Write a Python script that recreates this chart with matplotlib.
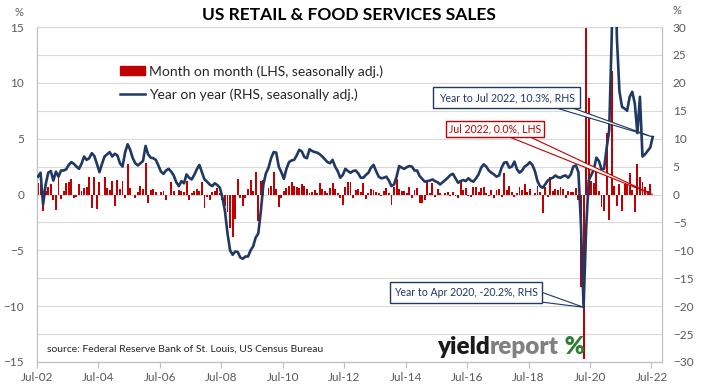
import numpy as np
import matplotlib
matplotlib.use("Agg")
import matplotlib.pyplot as plt
from matplotlib.patches import Polygon, Patch, Rectangle
from matplotlib.lines import Line2D

plt.rcParams['font.family'] = ['Lato', 'DejaVu Sans']

# month on month % change (LHS), Jul 2002 .. Jul 2022
mom_2002_2006 = [1.0, 0.9, -1.5, 0.3, 0.7, 0.9,
                 -0.5, -1.4, 1.6, -0.4, 0.3, 1.0, 1.1, 1.4, -0.3, -0.2, 0.9, 0.3,
                 0.6, 0.7, 1.6, -1.2, 1.6, -1.3, 1.1, 0.0, 1.6, 0.6, 0.4, 1.2,
                 -1.0, 1.3, 0.5, 1.2, -0.3, 2.7, 0.6, 0.0, -0.3, 0.2, 0.8, 0.5,
                 2.8, -0.8, 0.4, 0.5, 0.2, 0.0, 0.2, 0.3, -0.5, 0.0, 1.1, 0.3]
mom_2007_2011 = [0.0, 0.4, 0.3, 0.2, 1.2, -0.5, 0.1, 0.3, 0.5, 0.3, 1.1, -1.2,
                 -0.2, -0.5, 0.2, 0.3, 0.6, 0.1, -0.5, -1.0, -1.6, -3.0, -3.8, -2.2,
                 1.4, -0.3, -1.0, -0.3, 0.5, 1.3, 0.3, 2.0, -2.4, 1.2, 1.3, 0.0,
                 0.6, 0.8, 2.0, 0.5, -1.1, -0.3, 0.3, 0.6, 0.8, 1.1, 0.8, 0.7,
                 0.6, 0.9, 0.8, 0.5, 0.1, 0.2, 0.4, 0.1, 1.0, 0.5, 0.3, 0.1]
mom_2012_2016 = [0.6, 1.0, 0.5, 0.1, -0.3, -0.9, 0.7, 1.1, 1.1, -0.3, 0.4, 0.5,
                 0.2, 1.0, -0.4, 0.1, 0.5, 0.4, 0.2, 0.1, -0.1, 0.3, 0.6, 0.1,
                 -0.9, 0.7, 1.4, 0.5, 0.3, 0.3, 0.1, 0.7, -0.3, 0.4, 0.6, -0.8,
                 -0.8, -0.5, 1.2, 0.1, 1.0, -0.2, 0.5, 0.1, 0.0, 0.1, 0.2, -0.1,
                 0.2, -0.1, -0.3, 1.2, 0.4, 0.6, -0.1, -0.2, 0.7, 0.7, 0.2, 0.6]
mom_2017_2022 = [0.7, 0.1, -0.1, 0.4, -0.3, 0.4, 0.5, -0.2, 1.9, 0.4, 0.8, 0.2,
                 -0.2, 0.1, 0.7, 0.4, 0.9, 0.2, 0.5, 0.0, 0.1, 0.8, 0.2, -1.7,
                 0.7, -0.2, 1.6, 0.3, 0.5, 0.4, 0.7, 0.5, -0.3, 0.3, 0.2, 0.2,
                 0.6, -0.5, -8.3, -14.7, 18.2, 8.6, 1.2, 1.0, 2.2, 0.3, -1.1, -1.5,
                 5.5, -2.3, 11.1, 0.8, -1.0, 0.9, -1.5, 0.9, 1.0, 1.9, 0.4, -1.6,
                 2.7, 1.6, 1.1, 0.7, 0.3, 0.9, 0.0]

# year on year % change (RHS), Jul 2002 .. Jul 2022
yoy_2002_2006 = [3.2, 3.9, -1.8, 1.8, 3.9, 4.2,
                 2.5, 4.1, 3.2, 4.3, 4.3, 4.5, 5.3, 5.8, 5.5, 5.0, 4.6, 5.5,
                 6.8, 6.2, 6.5, 7.4, 6.9, 5.5, 4.0, 5.5, 6.8, 7.2, 7.6, 6.8,
                 7.3, 7.0, 5.6, 5.0, 7.5, 9.0, 8.0, 6.5, 5.6, 5.2, 5.6, 6.0,
                 8.7, 7.2, 6.6, 6.5, 6.2, 5.2, 4.1, 3.7, 4.3, 4.6, 4.1, 3.4]
yoy_2007_2011 = [2.2, 1.5, 2.4, 2.0, 3.6, 3.0, 2.7, 3.5, 4.5, 5.3, 4.0, 2.7,
                 2.3, 1.8, 1.5, 2.0, 1.7, 1.2, -0.5, -3.0, -7.0, -10.0, -10.8, -10.2,
                 -10.3, -11.3, -11.5, -11.1, -11.1, -10.0, -9.3, -7.7, -7.0, -3.0, 1.8, 3.8,
                 4.8, 6.5, 7.6, 7.5, 5.0, 4.0, 2.8, 4.6, 5.8, 6.1, 6.2, 7.0,
                 8.0, 7.7, 6.7, 6.5, 8.1, 7.8, 7.6, 7.5, 7.2, 6.8, 6.3, 5.8]
yoy_2012_2016 = [5.6, 6.2, 5.0, 4.2, 3.0, 3.5, 4.6, 4.2, 3.9, 4.2, 4.3, 3.8,
                 3.0, 3.0, 3.5, 3.9, 4.8, 5.3, 4.2, 3.2, 2.9, 3.0, 3.2, 2.5,
                 1.5, 1.8, 3.2, 5.1, 4.8, 4.6, 4.9, 5.1, 5.0, 4.3, 4.3, 3.3,
                 2.8, 2.3, 2.4, 2.5, 2.7, 2.4, 2.2, 1.8, 2.2, 2.6, 3.0, 3.5,
                 3.7, 2.9, 2.1, 2.4, 2.6, 2.4, 2.9, 2.5, 2.3, 2.9, 3.6, 4.8]
yoy_2017_2022 = [5.4, 5.0, 4.3, 3.9, 3.6, 3.2, 3.4, 4.8, 5.7, 5.8, 4.8, 5.0,
                 5.9, 4.5, 3.9, 4.3, 5.0, 5.3, 5.8, 5.3, 4.2, 2.4, 1.5, 1.2,
                 1.8, 2.5, 2.8, 3.0, 3.4, 3.1, 3.0, 3.3, 3.4, 3.0, 3.6, 5.0,
                 5.2, 4.0, -5.7, -20.2, -6.1, 2.5, 3.5, 4.5, 6.6, 6.0, 4.5, 4.6,
                 8.3, 11.5, 28.5, 51.2, 28.1, 18.5, 15.7, 15.4, 15.0, 17.5, 18.4, 16.3,
                 11.0, 17.5, 6.8, 7.2, 7.8, 8.4, 10.3]

tick_labels = ["Jul-02", "Jul-04", "Jul-06", "Jul-08", "Jul-10", "Jul-12",
               "Jul-14", "Jul-16", "Jul-18", "Jul-20", "Jul-22"]

mom = np.array(mom_2002_2006 + mom_2007_2011 + mom_2012_2016 + mom_2017_2022)
yoy = np.array(yoy_2002_2006 + yoy_2007_2011 + yoy_2012_2016 + yoy_2017_2022)
months = np.arange(len(mom)) + 0.5

RED = '#C00000'
NAVY = '#1F3864'
GREY = '#595959'

W, H = 709, 387
fig = plt.figure(figsize=(W / 100, H / 100), dpi=100)
ax = fig.add_axes([36.7 / W, 25 / H, 625 / W, 335 / H])
ax2 = ax.twinx()

ax.bar(months, mom, width=0.75, color=RED, zorder=2)
ax2.plot(months, yoy, color=NAVY, lw=1.9, zorder=3)

ax.set_xlim(0, 244)
ax.set_ylim(-15, 15)
ax2.set_ylim(-30, 30)

ax.set_yticks(np.arange(-15, 16, 5))
ax.set_yticks(np.arange(-15, 15.1, 2.5), minor=True)
ax.grid(axis='y', which='both', color='#D9D9D9', lw=0.8)
ax.set_axisbelow(True)
ax.tick_params(axis='y', which='both', length=0, labelsize=8.5, labelcolor=GREY, pad=9)
ax2.set_yticks(np.arange(-30, 31, 5))
ax2.tick_params(axis='y', length=0, labelsize=8.5, labelcolor=GREY, pad=8)

ax.set_xticks(np.arange(0, 241, 24))
ax.set_xticklabels(tick_labels)
ax.tick_params(axis='x', length=4, color='#BFBFBF', labelsize=8.5, labelcolor=GREY, pad=3)

for a in (ax, ax2):
    for s in ('left', 'right', 'bottom'):
        a.spines[s].set_color('#BFBFBF')
        a.spines[s].set_linewidth(0.8)
    a.spines['top'].set_color('#D9D9D9')
    a.spines['top'].set_linewidth(0.8)

# legend
handles = [Patch(color=RED), Line2D([], [], color=NAVY, lw=1.8)]
labels = ["Month on month (LHS, seasonally adj.)", "Year on year (RHS, seasonally adj.)"]
fig.legend(handles, labels, loc='upper left', bbox_to_anchor=(120 / W, 1 - 65 / H),
           frameon=False, fontsize=10, handlelength=1.8, handleheight=0.55,
           handletextpad=0.3, labelspacing=0.75, borderpad=0, borderaxespad=0,
           labelcolor='#262626')

fig.text(349 / W, 1 - 15 / H, "US RETAIL & FOOD SERVICES SALES", ha='center', va='center',
         fontsize=12.5, fontweight='bold', color='black')
fig.text(19 / W, 1 - 13 / H, "%", ha='center', va='center', fontsize=8, color=GREY)
fig.text(677 / W, 1 - 10 / H, "%", ha='center', va='center', fontsize=8, color=GREY)

to_fig = fig.transFigure.inverted()


def px(x, y):
    return (x / W, 1 - y / H)


def callout(text, box, base, tip_disp, color):
    # box = (left, top, right, bottom) in pixels
    l, t, r, b = box
    tip = to_fig.transform(tip_disp)
    wedge = Polygon([px(*base[0]), px(*base[1]), tip], closed=True, transform=fig.transFigure,
                    facecolor='white', edgecolor=color, lw=0.8, zorder=5)
    fig.add_artist(wedge)
    rect = Rectangle(px(l, b), (r - l) / W, (b - t) / H, transform=fig.transFigure,
                     facecolor='white', edgecolor=color, lw=1.0, zorder=6)
    fig.add_artist(rect)
    fig.text((l + r) / 2 / W, 1 - (t + b) / 2 / H, text, ha='center', va='center',
             fontsize=7.6, color=color, zorder=7)


last = len(months) - 1
low = int(np.argmin(yoy))
callout(f"Year to Jul 2022, {yoy[last]:.1f}%, RHS", (433, 87, 580, 108),
        [(553, 107), (570, 107)], ax2.transData.transform((months[last], yoy[last])), NAVY)
callout(f"Jul 2022, {mom[last]:.1f}%, LHS", (446, 121, 544, 137),
        [(507, 136), (528, 136)], ax.transData.transform((months[last], mom[last])), RED)
callout(f"Year to Apr 2020, {yoy[low]:.1f}%, RHS", (390, 282, 542, 303),
        [(541, 292), (541, 302)], ax2.transData.transform((months[low], yoy[low])), NAVY)

fig.text(47 / W, 1 - 349 / H, "source: Federal Reserve Bank of St. Louis, US Census Bureau",
         ha='left', va='center', fontsize=7.5, color='#262626')

# logo: pieces placed one after another
renderer = fig.canvas.get_renderer()
x0 = 437
for word, col in [("yield", '#1a1a1a'), ("report", '#808080'), (" %", '#2E7D32')]:
    t = fig.text(x0 / W, 1 - 354 / H, word, ha='left', va='baseline', fontsize=17.5,
                 fontweight='heavy', color=col)
    x0 += t.get_window_extent(renderer).width

fig.savefig("out.png", dpi=100)
